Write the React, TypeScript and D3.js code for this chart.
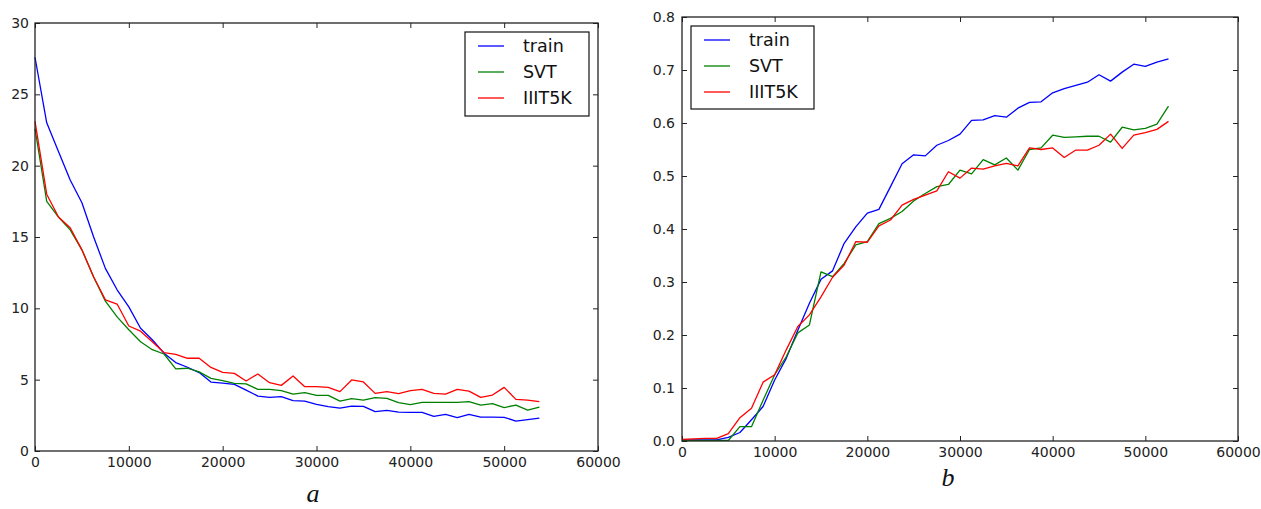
import React, { useRef, useEffect } from "react";
import * as d3 from "d3";

// iterations between two logged points
const STEP = 1250;

const seriesNames = ["train", "SVT", "IIIT5K"];
const seriesColors = ["#0000ff", "#008000", "#ff0000"];

// panel a: loss
const lossTrain = [
  27.6, 23.0, 21.0, 19.0, 17.4, 15.0, 12.8, 11.3, 10.1, 8.6, 7.8, 6.85, 6.2, 5.87, 5.5,
  4.83, 4.76, 4.67, 4.27, 3.85, 3.76, 3.81, 3.53, 3.5, 3.27, 3.11, 3.01, 3.15, 3.13,
  2.76, 2.85, 2.73, 2.71, 2.71, 2.43, 2.57, 2.34, 2.57, 2.38, 2.38, 2.36, 2.1, 2.2, 2.31,
];
const lossSVT = [
  22.6, 17.5, 16.4, 15.5, 14.1, 12.2, 10.5, 9.4, 8.5, 7.66, 7.1, 6.8, 5.75, 5.8, 5.55,
  5.09, 4.93, 4.74, 4.7, 4.32, 4.32, 4.23, 3.99, 4.09, 3.9, 3.9, 3.5, 3.67, 3.57, 3.74,
  3.69, 3.39, 3.25, 3.41, 3.41, 3.41, 3.41, 3.46, 3.22, 3.32, 3.04, 3.22, 2.87, 3.08,
];
const lossIIIT = [
  23.1, 18.0, 16.4, 15.65, 14.1, 12.2, 10.6, 10.3, 8.76, 8.4, 7.66, 6.9, 6.78, 6.5, 6.5,
  5.86, 5.51, 5.44, 4.91, 5.4, 4.79, 4.6, 5.26, 4.51, 4.51, 4.46, 4.16, 4.98, 4.84, 4.04,
  4.16, 4.02, 4.23, 4.32, 4.04, 3.99, 4.32, 4.2, 3.76, 3.92, 4.46, 3.62, 3.57, 3.46,
];

// panel b: accuracy
const accTrain = [
  0.002, 0.002, 0.002, 0.002, 0.007, 0.016, 0.04, 0.065, 0.115, 0.156, 0.209, 0.26,
  0.305, 0.321, 0.373, 0.404, 0.43, 0.437, 0.48, 0.523, 0.54, 0.538, 0.558, 0.567,
  0.579, 0.605, 0.606, 0.614, 0.611, 0.628, 0.639, 0.64, 0.657, 0.665, 0.671, 0.677,
  0.691, 0.679, 0.696, 0.711, 0.707, 0.715, 0.721,
];
const accSVT = [
  0.001, 0.001, 0.001, 0.001, 0.001, 0.027, 0.027, 0.077, 0.125, 0.159, 0.204, 0.219,
  0.319, 0.31, 0.335, 0.37, 0.376, 0.41, 0.42, 0.433, 0.453, 0.467, 0.48, 0.484, 0.511,
  0.504, 0.531, 0.521, 0.534, 0.511, 0.55, 0.553, 0.577, 0.573, 0.574, 0.575, 0.575,
  0.564, 0.592, 0.587, 0.59, 0.598, 0.632,
];
const accIIIT = [
  0.003, 0.004, 0.005, 0.005, 0.014, 0.044, 0.062, 0.111, 0.125, 0.172, 0.216, 0.238,
  0.272, 0.309, 0.332, 0.376, 0.375, 0.406, 0.417, 0.445, 0.456, 0.464, 0.472, 0.508,
  0.496, 0.515, 0.513, 0.519, 0.524, 0.519, 0.553, 0.55, 0.553, 0.535, 0.549, 0.549,
  0.558, 0.579, 0.552, 0.577, 0.582, 0.588, 0.603,
];

const xTicks = [0, 10000, 20000, 30000, 40000, 50000, 60000];
const lossTicks = [0, 5, 10, 15, 20, 25, 30];
const accTicks = [0, 0.1, 0.2, 0.3, 0.4, 0.5, 0.6, 0.7, 0.8];

const TICK_FONT = "'DejaVu Sans', sans-serif";

const drawPanel = (g, cfg) => {
  const { left, right, top, bottom, yMax, yTicks, yFormat, series, legend, label, yPad } = cfg;
  const x = d3.scaleLinear().domain([0, 60000]).range([left, right]);
  const y = d3.scaleLinear().domain([0, yMax]).range([bottom, top]);

  const styleAxis = (sel) => {
    sel.select(".domain").remove();
    sel.selectAll(".tick line").attr("stroke", "#222").attr("stroke-width", 1);
    sel
      .selectAll(".tick text")
      .attr("fill", "#222")
      .style("font-family", TICK_FONT)
      .style("font-size", "14px");
  };

  g.append("g")
    .attr("transform", `translate(0,${bottom})`)
    .call(d3.axisBottom(x).tickValues(xTicks).tickFormat(d3.format("d")).tickSizeInner(-5).tickSizeOuter(0).tickPadding(6))
    .call(styleAxis);
  g.append("g")
    .attr("transform", `translate(0,${top})`)
    .call(d3.axisTop(x).tickValues(xTicks).tickFormat(() => "").tickSizeInner(-5).tickSizeOuter(0))
    .call(styleAxis);
  g.append("g")
    .attr("transform", `translate(${left},0)`)
    .call(d3.axisLeft(y).tickValues(yTicks).tickFormat(yFormat).tickSizeInner(-5).tickSizeOuter(0).tickPadding(yPad))
    .call(styleAxis);
  g.append("g")
    .attr("transform", `translate(${right},0)`)
    .call(d3.axisRight(y).tickValues(yTicks).tickFormat(() => "").tickSizeInner(-5).tickSizeOuter(0))
    .call(styleAxis);

  const path = d3
    .line()
    .x((d, i) => x(i * STEP))
    .y((d) => y(d));

  series.forEach((vals, k) => {
    g.append("path")
      .attr("d", path(vals))
      .attr("fill", "none")
      .attr("stroke", seriesColors[k])
      .attr("stroke-width", 1.3)
      .attr("stroke-linejoin", "round");
  });

  g.append("rect")
    .attr("x", left)
    .attr("y", top)
    .attr("width", right - left)
    .attr("height", bottom - top)
    .attr("fill", "none")
    .attr("stroke", "#222")
    .attr("stroke-width", 1.3);

  // legend
  const lg = g.append("g");
  lg.append("rect")
    .attr("x", legend.x)
    .attr("y", legend.y)
    .attr("width", legend.w)
    .attr("height", legend.h)
    .attr("fill", "white")
    .attr("stroke", "#111")
    .attr("stroke-width", 1.2);
  seriesNames.forEach((name, k) => {
    const ry = legend.y + 14 + k * 26;
    lg.append("line")
      .attr("x1", legend.x + 13)
      .attr("x2", legend.x + 39)
      .attr("y1", ry)
      .attr("y2", ry)
      .attr("stroke", seriesColors[k])
      .attr("stroke-width", 1.3);
    lg.append("text")
      .attr("x", legend.x + 58)
      .attr("y", ry)
      .attr("dy", "0.36em")
      .attr("fill", "#111")
      .style("font-family", TICK_FONT)
      .style("font-size", "17.5px")
      .text(name);
  });

  g.append("text")
    .attr("x", label.x)
    .attr("y", label.y)
    .attr("text-anchor", "middle")
    .attr("fill", "#111")
    .style("font-family", "'Liberation Serif', serif")
    .style("font-style", "italic")
    .style("font-size", "26px")
    .text(label.text);
};

const App = () => {
  const svgRef = useRef(null);

  useEffect(() => {
    const svg = d3.select(svgRef.current);
    svg.selectAll("*").remove();

    drawPanel(svg.append("g"), {
      left: 35,
      right: 598,
      top: 23,
      bottom: 451,
      yMax: 30,
      yTicks: lossTicks,
      yFormat: d3.format("d"),
      yPad: 6,
      series: [lossTrain, lossSVT, lossIIIT],
      legend: { x: 465, y: 32, w: 124, h: 84 },
      label: { x: 313, y: 502, text: "a" },
    });

    drawPanel(svg.append("g"), {
      left: 682,
      right: 1238,
      top: 17,
      bottom: 441,
      yMax: 0.8,
      yTicks: accTicks,
      yFormat: d3.format(".1f"),
      yPad: 7,
      series: [accTrain, accSVT, accIIIT],
      legend: { x: 691, y: 26, w: 123, h: 83 },
      label: { x: 948, y: 486, text: "b" },
    });
  }, []);

  return (
    <svg
      ref={svgRef}
      width={1261}
      height={509}
      style={{ position: "absolute", left: 0, top: 0, background: "white" }}
    />
  );
};

export default App;
